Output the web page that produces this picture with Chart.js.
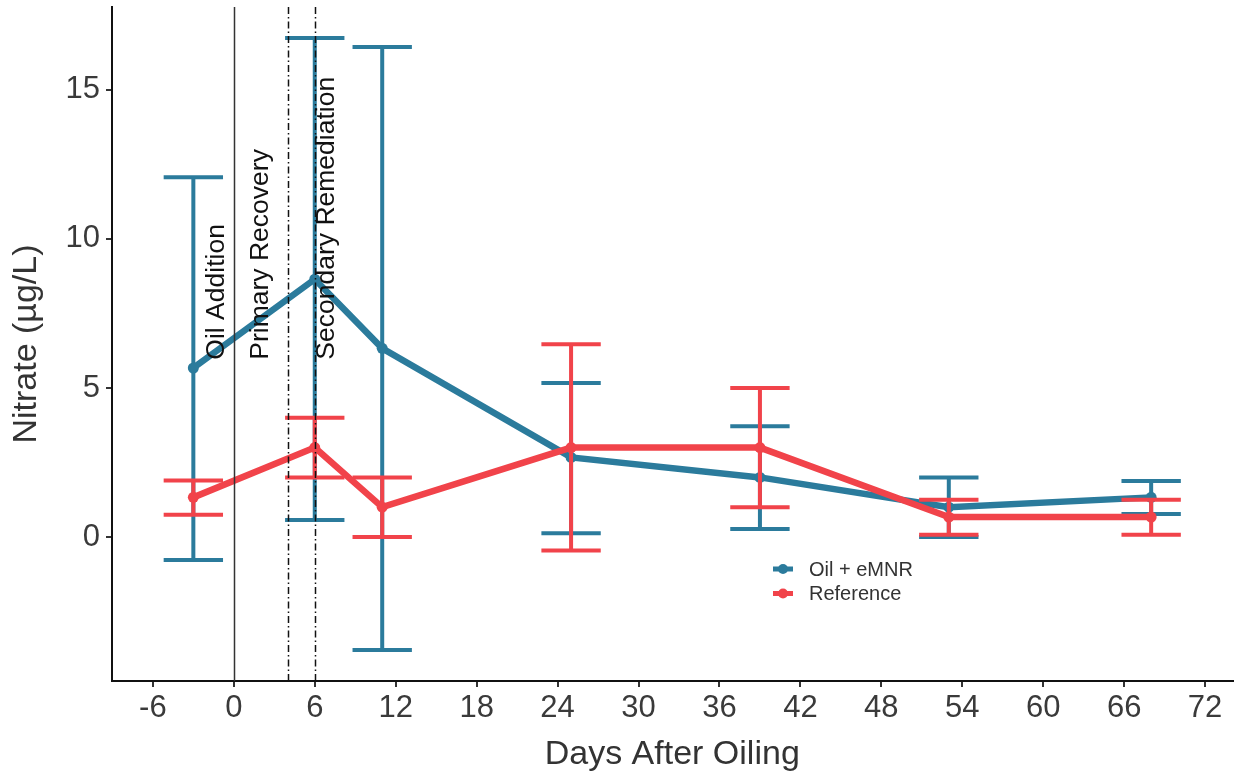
<!DOCTYPE html>
<html><head><meta charset="utf-8">
<script src="https://cdn.jsdelivr.net/npm/chart.js@4"></script>
<style>html,body{margin:0;padding:0;background:#fff}#wrap{width:1238px;height:776px}</style>
</head><body><div id="wrap"><canvas id="c" width="1238" height="776"></canvas></div>
<script>
const days = [-3, 6, 11, 25, 39, 53, 68];
const oilMean = [5.67, 8.65, 6.33, 2.67, 2.0, 1.0, 1.33];
const oilLow  = [-0.77, 0.57, -3.79, 0.13, 0.27, 0.0, 0.77];
const oilHigh = [12.07, 16.74, 16.44, 5.17, 3.72, 2.0, 1.88];
const refMean = [1.33, 3.0, 1.0, 3.0, 3.0, 0.67, 0.67];
const refLow  = [0.75, 2.0, 0.0, -0.45, 1.0, 0.08, 0.08];
const refHigh = [1.9, 4.0, 2.0, 6.47, 5.0, 1.25, 1.25];
const seriesNames = ['Oil + eMNR', 'Reference'];
const xTicks = [-6, 0, 6, 12, 18, 24, 30, 36, 42, 48, 54, 60, 66, 72];
const yTicks = [0, 5, 10, 15];
const eventDays = [0, 4, 6];
const eventLabels = ['Oil Addition', 'Primary Recovery', 'Secondary Remediation'];
const eventLabelDays = [-1.25, 2.0, 6.9];
const eventLabelStart = 5.95;

const BLUE = '#2B7B9C', RED = '#F1434A';
const FONT = "'Liberation Sans', Arial, sans-serif";
const errHalfWidth = 2.2;

function pts(ys){ return days.map((d,i)=>({x:d, y:ys[i]})); }
const errs = [[oilLow, oilHigh], [refLow, refHigh]];

const overlay = {
  id: 'overlay',
  beforeDatasetDraw(chart, args) {
    const i = args.index;
    const xs = chart.scales.x, ys = chart.scales.y;
    const ctx = chart.ctx;
    const color = chart.data.datasets[i].borderColor;
    const [lo, hi] = errs[i];
    ctx.save();
    ctx.strokeStyle = color;
    ctx.lineWidth = 4;
    ctx.lineCap = 'butt';
    days.forEach((d, k) => {
      const x = xs.getPixelForValue(d);
      const xl = xs.getPixelForValue(d - errHalfWidth), xr = xs.getPixelForValue(d + errHalfWidth);
      const yl = ys.getPixelForValue(lo[k]), yh = ys.getPixelForValue(hi[k]);
      ctx.beginPath();
      ctx.moveTo(x, yl); ctx.lineTo(x, yh);
      ctx.moveTo(xl, yl); ctx.lineTo(xr, yl);
      ctx.moveTo(xl, yh); ctx.lineTo(xr, yh);
      ctx.stroke();
    });
    ctx.restore();
  },
  afterDatasetsDraw(chart) {
    const xs = chart.scales.x, ys = chart.scales.y;
    const ctx = chart.ctx;
    const top = chart.chartArea.top, bottom = chart.chartArea.bottom;
    ctx.save();
    eventDays.forEach((d, k) => {
      const x = Math.round(xs.getPixelForValue(d)) + 0.5;
      ctx.beginPath();
      ctx.strokeStyle = k === 0 ? '#333' : '#111';
      ctx.lineWidth = 1.5;
      ctx.setLineDash(k === 0 ? [] : [7, 3, 1.5, 3]);
      ctx.moveTo(x, top); ctx.lineTo(x, bottom);
      ctx.stroke();
    });
    ctx.setLineDash([]);
    ctx.fillStyle = '#111';
    ctx.font = '26.5px ' + FONT;
    ctx.textAlign = 'left';
    ctx.textBaseline = 'middle';
    eventLabels.forEach((t, k) => {
      const x = xs.getPixelForValue(eventLabelDays[k]);
      const y = ys.getPixelForValue(eventLabelStart);
      ctx.save();
      ctx.translate(x, y);
      ctx.rotate(-Math.PI / 2);
      ctx.fillText(t, 0, 0);
      ctx.restore();
    });
    ctx.restore();
  },
  afterDraw(chart) {
    const ctx = chart.ctx;
    ctx.save();
    ctx.font = '20px ' + FONT;
    ctx.textBaseline = 'middle';
    ctx.textAlign = 'left';
    chart.data.datasets.forEach((ds, i) => {
      const y = 569 + i * 24.5;
      ctx.strokeStyle = ds.borderColor;
      ctx.fillStyle = ds.borderColor;
      ctx.lineWidth = 5;
      ctx.beginPath(); ctx.moveTo(773, y); ctx.lineTo(793, y); ctx.stroke();
      ctx.beginPath(); ctx.arc(783, y, 5, 0, Math.PI * 2); ctx.fill();
      ctx.fillStyle = '#333';
      ctx.fillText(ds.label, 809, y + 1);
    });
    ctx.restore();
  }
};

new Chart(document.getElementById('c'), {
  type: 'line',
  data: {
    datasets: [
      { label: seriesNames[0], data: pts(oilMean), borderColor: BLUE, backgroundColor: BLUE,
        borderWidth: 6.5, pointRadius: 5.5, pointBackgroundColor: BLUE, pointBorderWidth: 0, order: 2, tension: 0 },
      { label: seriesNames[1], data: pts(refMean), borderColor: RED, backgroundColor: RED,
        borderWidth: 6.5, pointRadius: 5.5, pointBackgroundColor: RED, pointBorderWidth: 0, order: 1, tension: 0 }
    ]
  },
  options: {
    responsive: false, animation: false, devicePixelRatio: 1,
    layout: { padding: { top: 7, right: 4, left: 0, bottom: 0 } },
    plugins: { legend: { display: false }, tooltip: { enabled: false } },
    scales: {
      x: {
        type: 'linear', min: -9.03, max: 74.03,
        afterBuildTicks(s) { s.ticks = xTicks.map(v => ({ value: v })); },
        afterFit(s) { s.height = 95; s.paddingLeft = 0; s.paddingRight = 0; },
        grid: { drawOnChartArea: false, drawTicks: true, tickLength: 6, color: '#333', lineWidth: 2 },
        border: { display: true, color: '#111', width: 2 },
        ticks: { color: '#3a3a3a', font: { family: FONT, size: 31 }, padding: 3, maxRotation: 0, autoSkip: false },
        title: { display: true, text: 'Days After Oiling', color: '#333', font: { family: FONT, size: 34 }, padding: { top: 0, bottom: 1 } }
      },
      y: {
        type: 'linear', min: -4.83, max: 17.78,
        afterBuildTicks(s) { s.ticks = yTicks.map(v => ({ value: v })); },
        afterFit(s) { s.width = 112; s.paddingTop = 0; s.paddingBottom = 0; },
        grid: { drawOnChartArea: false, drawTicks: true, tickLength: 6, color: '#333', lineWidth: 2 },
        border: { display: true, color: '#111', width: 2 },
        ticks: { color: '#3a3a3a', font: { family: FONT, size: 31 }, padding: 6 },
        title: { display: true, text: 'Nitrate (µg/L)', color: '#333', font: { family: FONT, size: 34 }, padding: { top: 6, bottom: 0 } }
      }
    }
  },
  plugins: [overlay]
});
</script>
</body></html>
